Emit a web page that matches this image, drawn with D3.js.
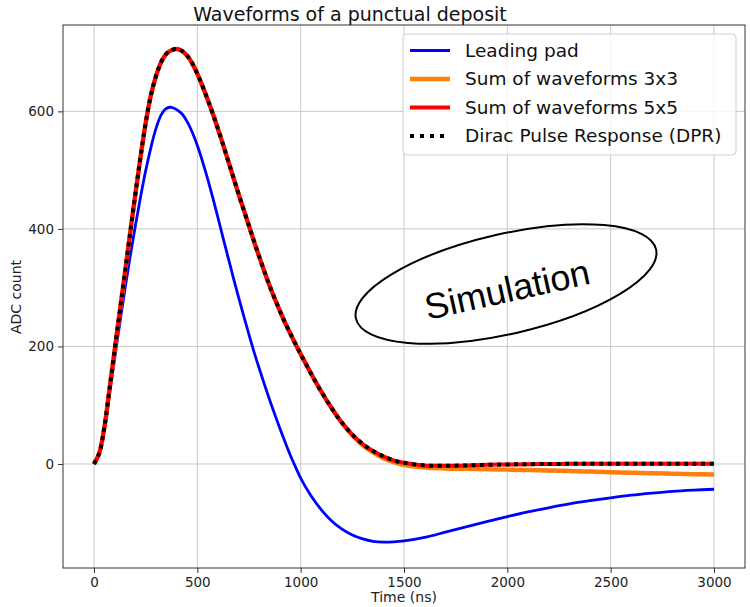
<!DOCTYPE html>
<html>
<head>
<meta charset="utf-8">
<script src="https://cdn.jsdelivr.net/npm/d3@7"></script>
<style>
  html, body { margin: 0; padding: 0; background: #ffffff; }
  svg { display: block; }
</style>
</head>
<body>
<svg id="chart" width="750" height="607"></svg>
<script>
// ---------- data ----------
const timeNs = [0,25,50,75,100,125,150,175,200,225,250,275,300,325,350,375,400,425,450,475,500,525,550,575,600,625,650,675,700,725,750,775,800,825,850,875,900,925,950,975,1000,
  1050,1100,1150,1200,1250,1300,1350,1400,1450,1500,
  1600,1700,1800,1900,2000,2100,2200,2300,2400,2500,2600,2700,2800,2900,3000];

const leadingPad = [0,17,58,118,180,240,298,353,405,454,499,538,571,594,605,607,603,596,583,565,542,515,485,453,419,384,350,316,283,251,220,190,162,135,109,84,60,37,15,-5,-24,
  -54,-78,-97,-111,-121,-127.5,-131.5,-133,-132.5,-131,
  -125,-116,-107,-98,-89.5,-81.5,-74.5,-68,-62.5,-57.5,-53,-49.5,-46.5,-44.5,-43];

const sum3x3 = [0,18,62,127,194,260,326,393,459,522,580,627,660,684,698,704,706,703,695,682,664,643,620,596,570,543,515,487,459,432,405,378,352,327,303,281,260,240,222,204,187,
  154,123,95,70,49,32,20,10,3,-2,
  -6,-7.5,-8.3,-9,-9.6,-10.4,-11.2,-12,-13,-14,-14.8,-15.7,-16.5,-17.3,-18];

const sum5x5 = [0,18,62,127,194,260,326,393,459,522,580,627,660,684,698,704,706,703,695,682,664,643,620,596,570,543,515,487,459,432,405,378,352,327,303,281,260,240,222,204,187,
  154,123,95,70,50,34,22,13,6,2,
  -2.5,-3,-2.5,-1.5,-0.8,-0.3,0,0.3,0.5,0.5,0.5,0.5,0.5,0.5,0.5];

const dpr = [0,18,62,127,194,260,326,393,459,522,580,627,660,684,698,704,706,703,695,682,664,643,620,596,570,543,515,487,459,432,405,378,352,327,303,281,260,240,222,204,187,
  154,123,95,70,50,34,22,13,6,2,
  -2.5,-3,-2.5,-1.5,-0.8,-0.3,0,0.3,0.5,0.5,0.5,0.5,0.5,0.5,0.5];

const xTicks = [0,500,1000,1500,2000,2500,3000];
const yTicks = [0,200,400,600];
const seriesNames = ["Leading pad","Sum of waveforms 3x3","Sum of waveforms 5x5","Dirac Pulse Response (DPR)"];

// ---------- layout ----------
const svg = d3.select("#chart");
const L = 63, R = 745, T = 25, B = 568;
const x = d3.scaleLinear().domain([-150, 3150]).range([L, R]);
const y = d3.scaleLinear().domain([-177, 747]).range([B, T]);
const font = "DejaVu Sans, sans-serif";

// grid
const grid = svg.append("g");
grid.selectAll("line.gx").data(xTicks).join("line")
  .attr("x1", d => x(d)).attr("x2", d => x(d)).attr("y1", T).attr("y2", B)
  .attr("stroke", "#c8c8c8").attr("stroke-width", 1);
grid.selectAll("line.gy").data(yTicks).join("line")
  .attr("x1", L).attr("x2", R).attr("y1", d => y(d)).attr("y2", d => y(d))
  .attr("stroke", "#c8c8c8").attr("stroke-width", 1);

// lines
const pts = arr => timeNs.map((t, i) => [t, arr[i]]);
const line = d3.line().x(d => x(d[0])).y(d => y(d[1])).curve(d3.curveCatmullRom.alpha(0.5));
const plot = svg.append("g");
plot.append("path").attr("d", line(pts(leadingPad))).attr("fill", "none")
  .attr("stroke", "#0000ff").attr("stroke-width", 2.8);
plot.append("path").attr("d", line(pts(sum3x3))).attr("fill", "none")
  .attr("stroke", "#ff7f0e").attr("stroke-width", 4.5);
plot.append("path").attr("d", line(pts(sum5x5))).attr("fill", "none")
  .attr("stroke", "#ff0000").attr("stroke-width", 4);
plot.append("path").attr("d", line(pts(dpr))).attr("fill", "none")
  .attr("stroke", "#000000").attr("stroke-width", 4).attr("stroke-dasharray", "4,4.5");

// spines
svg.append("rect").attr("x", L).attr("y", T).attr("width", R - L).attr("height", B - T)
  .attr("fill", "none").attr("stroke", "#333").attr("stroke-width", 1);

// axes
const xAxis = svg.append("g").attr("transform", `translate(0,${B})`)
  .call(d3.axisBottom(x).tickValues(xTicks).tickSize(5).tickPadding(4).tickFormat(d3.format("d")));
const yAxis = svg.append("g").attr("transform", `translate(${L},0)`)
  .call(d3.axisLeft(y).tickValues(yTicks).tickSize(5).tickPadding(4).tickFormat(d3.format("d")));
[xAxis, yAxis].forEach(a => {
  a.select(".domain").remove();
  a.selectAll(".tick line").attr("stroke", "#333");
  a.selectAll(".tick text").attr("font-family", font).attr("font-size", 13.5).attr("fill", "#222");
});

// axis labels and title
svg.append("text").attr("x", 404).attr("y", 602).attr("text-anchor", "middle")
  .attr("font-family", font).attr("font-size", 14).attr("fill", "#222").text("Time (ns)");
svg.append("text").attr("transform", "translate(21,297) rotate(-90)").attr("text-anchor", "middle")
  .attr("font-family", font).attr("font-size", 14).attr("fill", "#222").text("ADC count");
svg.append("text").attr("x", 350).attr("y", 21).attr("text-anchor", "middle")
  .attr("font-family", font).attr("font-size", 19).attr("fill", "#111").text("Waveforms of a punctual deposit");

// legend
const lg = svg.append("g");
lg.append("rect").attr("x", 403).attr("y", 34).attr("width", 333).attr("height", 121).attr("rx", 4)
  .attr("fill", "#ffffff").attr("fill-opacity", 0.8).attr("stroke", "#d0d0d0").attr("stroke-width", 1);
const legStyles = [
  {c: "#0000ff", w: 2.8, dash: null},
  {c: "#ff7f0e", w: 4.5, dash: null},
  {c: "#ff0000", w: 4, dash: null},
  {c: "#000000", w: 4, dash: "4,6"}
];
const rowY = [50.5, 79, 107.5, 136];
seriesNames.forEach((name, i) => {
  const s = legStyles[i];
  const ln = lg.append("line").attr("x1", 410).attr("x2", 450).attr("y1", rowY[i]).attr("y2", rowY[i])
    .attr("stroke", s.c).attr("stroke-width", s.w);
  if (s.dash) ln.attr("stroke-dasharray", s.dash);
  lg.append("text").attr("x", 465).attr("y", rowY[i]).attr("dy", "0.35em")
    .attr("font-family", font).attr("font-size", 18.5).attr("fill", "#111").text(name);
});

// annotation
const ann = svg.append("g").attr("transform", "translate(506,284) rotate(-13)");
ann.append("ellipse").attr("cx", 0).attr("cy", 0).attr("rx", 154).attr("ry", 50)
  .attr("fill", "none").attr("stroke", "#000").attr("stroke-width", 2);
svg.append("text").attr("transform", "translate(507,289) rotate(-12.5)")
  .attr("text-anchor", "middle").attr("y", 13)
  .attr("font-family", "Liberation Sans, Arial, sans-serif").attr("font-size", 36).attr("fill", "#000")
  .text("Simulation");
</script>
</body>
</html>
